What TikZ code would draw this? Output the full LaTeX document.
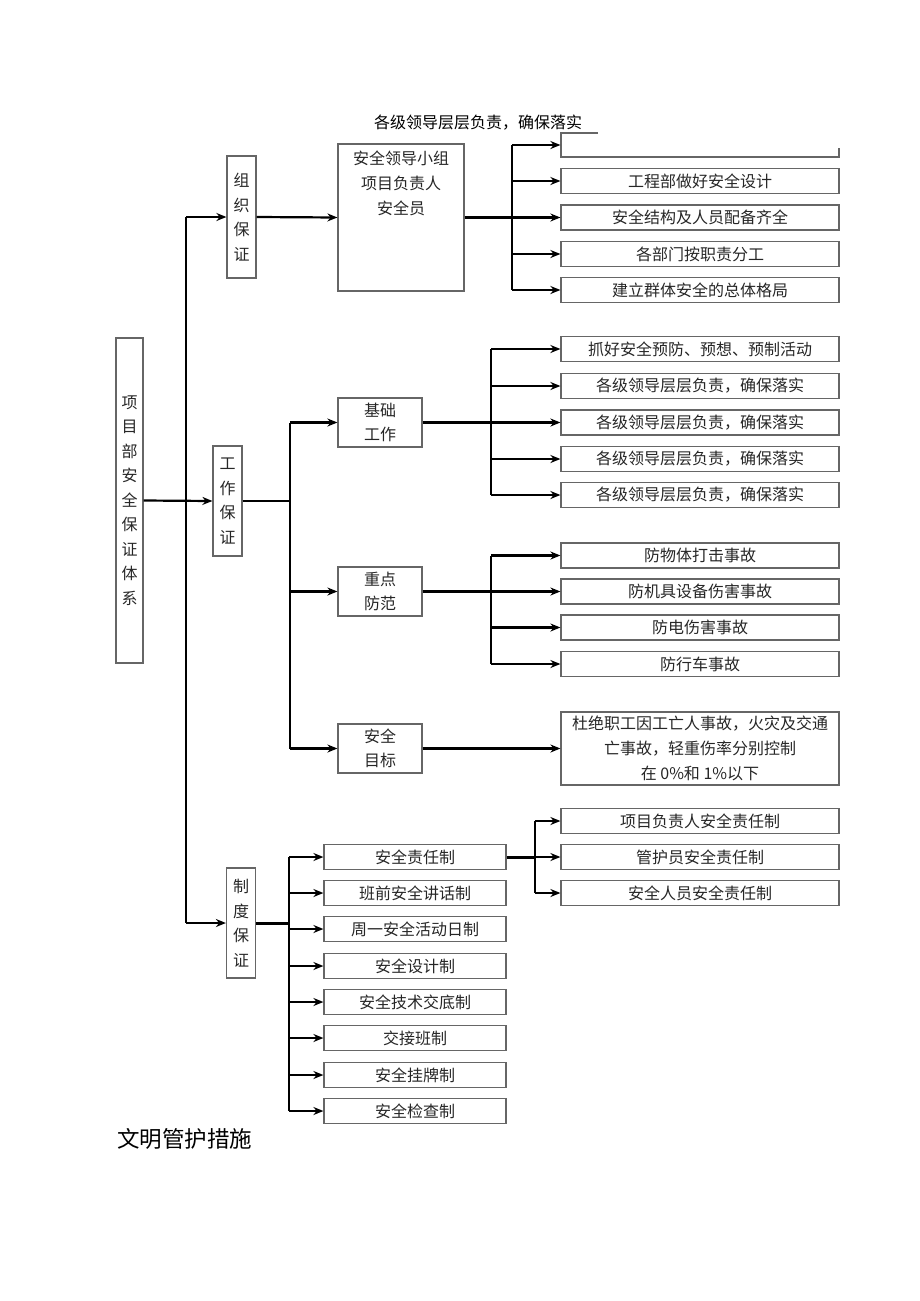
\documentclass[tikz,border=0pt]{standalone}
\usepackage{fontspec}
\setmainfont{Noto Sans CJK SC}
\usetikzlibrary{arrows.meta}
\begin{document}
\begin{tikzpicture}[x=1pt,y=-1pt]
\tikzset{box/.style = {draw=black!60, line width=1.2pt, text=black!85, inner sep=0pt, font=\fontsize{16}{24.5}\selectfont, align=center},
	vbox/.style = {box, minimum width=29pt},
	item/.style = {box, minimum width=278pt, minimum height=25pt},
	rulebox/.style = {box, minimum width=182pt, minimum height=25pt},
	arrow/.style = {line width=2.2pt, -{Stealth[length=10pt,width=8pt]}},
	link/.style = {line width=2.2pt}}
\useasboundingbox (0,0) rectangle (920,1301);

		% left column
		\node[vbox, minimum width=27pt, minimum height=325pt] (root) at (129.5,500.5) {项\\目\\部\\安\\全\\保\\证\\体\\系};
		\node[vbox, minimum height=122pt] (org) at (241.5,217) {组\\织\\保\\证};
		\node[vbox, minimum height=110pt] (work) at (227.5,501) {工\\作\\保\\证};
		\node[vbox, minimum height=110pt] (rule) at (241,923) {制\\度\\保\\证};
		\coordinate (T_top) at (186,217);
		\coordinate (T_bot) at (186,923);

		% organisation
		\node[box, minimum width=126pt, minimum height=147pt,
			label={[font=\fontsize{16}{25}\selectfont, text=black!85, align=center, anchor=north, yshift=-4pt]north:安全领导小组\\项目负责人\\安全员}] (lead) at (401,217.5) {};
		\node (top_note) at (478,123) {\fontsize{16}{20}\selectfont 各级领导层层负责，确保落实};
		\node[item, draw=none] (O_1) at (700,145) {};
		\draw[draw=black!60, line width=1.2pt] (598,133) -- (561,133) -- (561,157) -- (839,157) -- (839,148);
		\node[item] (O_2) at (700,181) {工程部做好安全设计};
		\node[item] (O_3) at (700,217.5) {安全结构及人员配备齐全};
		\node[item] (O_4) at (700,254) {各部门按职责分工};
		\node[item] (O_5) at (700,290) {建立群体安全的总体格局};
		\coordinate (O_bus) at (512,0);

		% work
		\node[box, minimum width=84pt, minimum height=49pt] (base) at (380,422.5) {基础\\工作};
		\node[box, minimum width=84pt, minimum height=49pt] (key) at (380,591.5) {重点\\防范};
		\node[box, minimum width=84pt, minimum height=49pt] (goal) at (380,748.5) {安全\\目标};
		\coordinate (W_bus) at (290,0);
		\node[item] (B_1) at (700,349) {抓好安全预防、预想、预制活动};
		\node[item] (B_2) at (700,386) {各级领导层层负责，确保落实};
		\node[item] (B_3) at (700,422.5) {各级领导层层负责，确保落实};
		\node[item] (B_4) at (700,459) {各级领导层层负责，确保落实};
		\node[item] (B_5) at (700,495) {各级领导层层负责，确保落实};
		\coordinate (B_bus) at (491,0);
		\node[item] (K_1) at (700,555.5) {防物体打击事故};
		\node[item] (K_2) at (700,591.5) {防机具设备伤害事故};
		\node[item] (K_3) at (700,627.5) {防电伤害事故};
		\node[item] (K_4) at (700,664) {防行车事故};
		\node[item, minimum height=73pt, font=\fontsize{16}{25}\selectfont] (G_1) at (700,748.5) {杜绝职工因工亡人事故，火灾及交通\\亡事故，轻重伤率分别控制\\在 0\%和 1\%以下};

		% rules
		\node[rulebox] (R_1) at (415,857) {安全责任制};
		\node[rulebox] (R_2) at (415,893) {班前安全讲话制};
		\node[rulebox] (R_3) at (415,929) {周一安全活动日制};
		\node[rulebox] (R_4) at (415,966) {安全设计制};
		\node[rulebox] (R_5) at (415,1002) {安全技术交底制};
		\node[rulebox] (R_6) at (415,1038) {交接班制};
		\node[rulebox] (R_7) at (415,1075) {安全挂牌制};
		\node[rulebox] (R_8) at (415,1111) {安全检查制};
		\coordinate (R_bus) at (289,0);
		\node[item] (D_1) at (700,821) {项目负责人安全责任制};
		\node[item] (D_2) at (700,857) {管护员安全责任制};
		\node[item] (D_3) at (700,893) {安全人员安全责任制};
		\coordinate (D_bus) at (535,0);

		\node[anchor=west, inner sep=0pt] (next_title) at (117,1139) {\fontsize{22.5}{26}\selectfont 文明管护措施};

		% connectors
		\draw[arrow] (root.east) -- (work.west);
		\draw[link] (T_top) -- (T_bot);
		\draw[arrow] (T_top) -- (org.west);
		\draw[arrow] (T_bot) -- (rule.west);

		\draw[arrow] (org.east) -- (lead.west);
		\draw[link] (lead.east) -- (lead.east -| O_bus);
		\draw[link] (O_1.west -| O_bus) -- (O_5.west -| O_bus);
		\foreach \i in {1,...,5} \draw[arrow] (O_\i.west -| O_bus) -- (O_\i.west);

		\draw[link] (work.east) -- (work.east -| W_bus);
		\draw[link] (base.west -| W_bus) -- (goal.west -| W_bus);
		\foreach \n in {base,key,goal} \draw[arrow] (\n.west -| W_bus) -- (\n.west);

		\draw[link] (base.east) -- (base.east -| B_bus);
		\draw[link] (B_1.west -| B_bus) -- (B_5.west -| B_bus);
		\foreach \i in {1,...,5} \draw[arrow] (B_\i.west -| B_bus) -- (B_\i.west);

		\draw[link] (key.east) -- (key.east -| B_bus);
		\draw[link] (K_1.west -| B_bus) -- (K_4.west -| B_bus);
		\foreach \i in {1,...,4} \draw[arrow] (K_\i.west -| B_bus) -- (K_\i.west);

		\draw[arrow] (goal.east) -- (G_1.west);

		\draw[link, line width=3pt] (rule.east) -- (rule.east -| R_bus);
		\draw[link] (R_1.west -| R_bus) -- (R_8.west -| R_bus);
		\foreach \i in {1,...,8} \draw[arrow] (R_\i.west -| R_bus) -- (R_\i.west);

		\draw[link, line width=3pt] (R_1.east) -- (R_1.east -| D_bus);
		\draw[link] (D_1.west -| D_bus) -- (D_3.west -| D_bus);
		\foreach \i in {1,...,3} \draw[arrow] (D_\i.west -| D_bus) -- (D_\i.west);
	\end{tikzpicture}
\end{document}
